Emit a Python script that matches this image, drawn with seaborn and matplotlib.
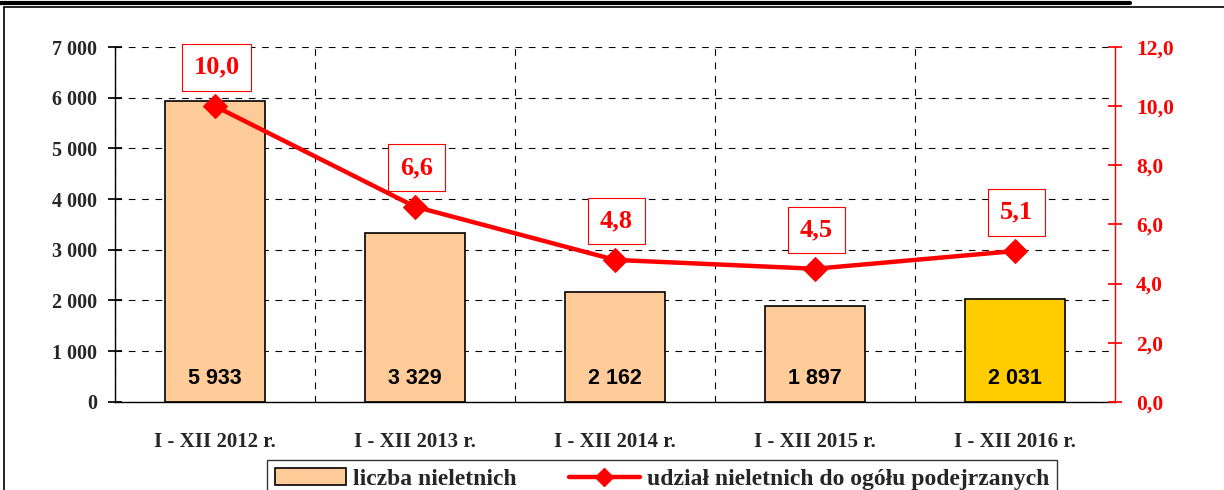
import matplotlib
matplotlib.use("Agg")
import matplotlib.pyplot as plt
from matplotlib.lines import Line2D
from matplotlib.patches import Patch
import numpy as np
import pandas as pd
import seaborn as sns

# dane
okresy = ["I - XII 2012 r.", "I - XII 2013 r.", "I - XII 2014 r.", "I - XII 2015 r.", "I - XII 2016 r."]
liczba = [5933, 3329, 2162, 1897, 2031]
udzial = [10.0, 6.6, 4.8, 4.5, 5.1]
kolory = ["#FFCC99", "#FFCC99", "#FFCC99", "#FFCC99", "#FFCC00"]

sns.set_theme(style="white")
plt.rcParams['font.family'] = ['Liberation Serif', 'DejaVu Serif']

df = pd.DataFrame({"okres": okresy, "liczba": liczba, "udzial": udzial})

fig = plt.figure(figsize=(12.24, 4.9), dpi=100)
ax = fig.add_axes([0.094, 0.18, 0.817, 0.724])

sns.barplot(data=df, x="okres", y="liczba", hue="okres", palette=kolory, legend=False,
            width=0.5, edgecolor="black", linewidth=1.2, saturation=1, ax=ax)

ax.set_ylim(0, 7000)
ax.set_xlim(-0.5, len(okresy) - 0.5)
ax.set_yticks(np.arange(0, 7001, 1000))
ax.set_yticklabels([f"{v:,}".replace(",", " ") for v in range(0, 7001, 1000)],
                   fontsize=14.5, fontweight="bold")
ax.set_xticks(range(len(okresy)))
ax.set_xticklabels(okresy, fontsize=15, fontweight="bold")
ax.set_xticks(np.arange(-0.5, len(okresy), 1), minor=True)
ax.tick_params(axis="x", which="major", length=0, pad=22)
ax.tick_params(axis="x", which="minor", length=8, direction="inout", color="black")
ax.tick_params(axis="y", length=10, direction="inout", color="black", pad=8)
ax.set_xlabel("")
ax.set_ylabel("")

ax.yaxis.grid(True, linestyle=(0, (6, 6)), color="black", linewidth=0.8)
ax.xaxis.grid(True, which="minor", linestyle=(0, (6, 6)), color="black", linewidth=0.8)
ax.xaxis.grid(False, which="major")
ax.set_axisbelow(True)
for s in ["top", "right"]:
    ax.spines[s].set_visible(False)
for s in ["left", "bottom"]:
    ax.spines[s].set_color("black")
    ax.spines[s].set_linewidth(1)

for i, v in enumerate(liczba):
    ax.text(i, 450, f"{v:,}".replace(",", " "), ha="center", va="center",
            fontsize=15.5, fontweight="bold", family="Liberation Sans", color="black")

ax2 = ax.twinx()
sns.lineplot(x=list(range(len(okresy))), y=udzial, color="red", linewidth=3.2,
             marker="D", markersize=12, markeredgecolor="red", ax=ax2)
ax2.set_ylim(0, 12)
ax2.set_yticks(np.arange(0, 12.1, 2))
ax2.set_yticklabels([f"{v:.1f}".replace(".", ",") for v in np.arange(0, 12.1, 2)],
                    fontsize=15.5, fontweight="bold", color="red")
ax2.tick_params(axis="y", length=10, direction="inout", color="red", pad=10)
for s in ["top", "left", "bottom"]:
    ax2.spines[s].set_visible(False)
ax2.spines["right"].set_color("red")
ax2.spines["right"].set_linewidth(1)

for i, v in enumerate(udzial):
    ax2.annotate(f"{v:.1f}".replace(".", ","), (i, v), xytext=(1, 28), textcoords="offset points",
                 ha="center", va="center", fontsize=19, fontweight="bold", color="red",
                 bbox=dict(boxstyle="square,pad=0.45", fc="white", ec="red", lw=0.8))

handles = [Patch(facecolor="#FFCC99", edgecolor="black", linewidth=1.2),
           Line2D([0], [0], color="red", lw=3.2, marker="D", markersize=9)]
leg = fig.legend(handles, ["liczba nieletnich", "udział nieletnich do ogółu podejrzanych"],
                 loc="upper center", bbox_to_anchor=(0.541, 0.085), ncol=2, frameon=True,
                 fancybox=False, edgecolor="black", handlelength=3.0,
                 columnspacing=2.2, handletextpad=0.3, borderpad=0.35,
                 prop={"family": "Liberation Serif", "weight": "bold", "size": 17})
leg.get_frame().set_linewidth(1)

# ramka i podkreślenie tytułu
fig.add_artist(Line2D([0.003, 0.003], [0, 0.986], color="black", lw=1.2, transform=fig.transFigure))
fig.add_artist(Line2D([0.003, 1], [0.986, 0.986], color="black", lw=1.2, transform=fig.transFigure))
fig.add_artist(Line2D([0, 0.923], [0.994, 0.994], color="black", lw=3, transform=fig.transFigure))

fig.savefig("out.png", dpi=100)
